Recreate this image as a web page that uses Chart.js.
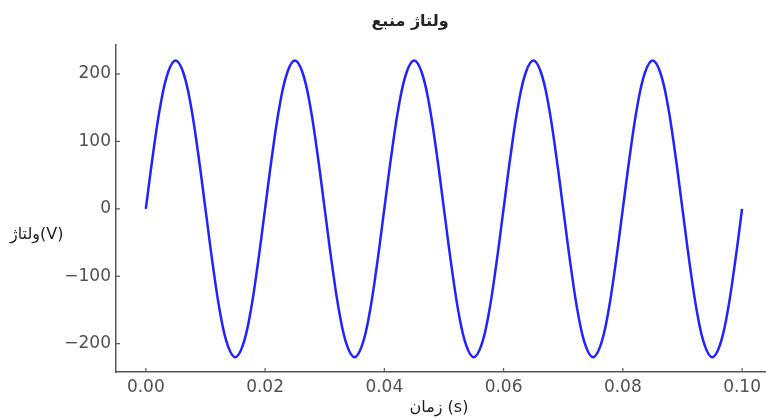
<!DOCTYPE html>
<html>
<head>
    <title>ولتاژ منبع</title>
    <script src="https://cdn.jsdelivr.net/npm/chart.js"></script>
    <style>
        body { margin: 0; background: #fff; }
        #wrap { width: 766px; height: 420px; }
    </style>
</head>
<body>
    <div id="wrap"><canvas id="myChart"></canvas></div>

    <script>
        // data (time in s, voltage in V)
        let times = [
            0.0000, 0.00125, 0.0025, 0.00375, 0.0050, 0.00625, 0.0075, 0.00875,
            0.0100, 0.01125, 0.0125, 0.01375, 0.0150, 0.01625, 0.0175, 0.01875,
            0.0200, 0.02125, 0.0225, 0.02375, 0.0250, 0.02625, 0.0275, 0.02875,
            0.0300, 0.03125, 0.0325, 0.03375, 0.0350, 0.03625, 0.0375, 0.03875,
            0.0400, 0.04125, 0.0425, 0.04375, 0.0450, 0.04625, 0.0475, 0.04875,
            0.0500, 0.05125, 0.0525, 0.05375, 0.0550, 0.05625, 0.0575, 0.05875,
            0.0600, 0.06125, 0.0625, 0.06375, 0.0650, 0.06625, 0.0675, 0.06875,
            0.0700, 0.07125, 0.0725, 0.07375, 0.0750, 0.07625, 0.0775, 0.07875,
            0.0800, 0.08125, 0.0825, 0.08375, 0.0850, 0.08625, 0.0875, 0.08875,
            0.0900, 0.09125, 0.0925, 0.09375, 0.0950, 0.09625, 0.0975, 0.09875,
            0.1000
        ];
        let volts = [
            0, 84, 156, 203, 220, 203, 156, 84,
            0, -84, -156, -203, -220, -203, -156, -84,
            0, 84, 156, 203, 220, 203, 156, 84,
            0, -84, -156, -203, -220, -203, -156, -84,
            0, 84, 156, 203, 220, 203, 156, 84,
            0, -84, -156, -203, -220, -203, -156, -84,
            0, 84, 156, 203, 220, 203, 156, 84,
            0, -84, -156, -203, -220, -203, -156, -84,
            0, 84, 156, 203, 220, 203, 156, 84,
            0, -84, -156, -203, -220, -203, -156, -84,
            0
        ];
        let xTicks = [0.00, 0.02, 0.04, 0.06, 0.08, 0.10];
        let yTicks = [-200, -100, 0, 100, 200];

        let titleText = 'ولتاژ منبع';
        let xLabel = 'زمان (s)';
        let yLabel = 'ولتاژ(V)';

        let arabicFont = '"DejaVu Sans", "Liberation Sans", sans-serif';
        let axisColor = '#555555';

        // inward ticks + titles, matplotlib style
        let decorations = {
            id: 'decorations',
            afterDraw(chart) {
                let ctx = chart.ctx;
                let area = chart.chartArea;
                let xs = chart.scales.x;
                let ys = chart.scales.y;
                ctx.save();
                ctx.strokeStyle = axisColor;
                ctx.lineWidth = 1.2;
                xs.ticks.forEach(t => {
                    let px = xs.getPixelForValue(t.value);
                    ctx.beginPath();
                    ctx.moveTo(px, area.bottom);
                    ctx.lineTo(px, area.bottom - 4);
                    ctx.stroke();
                });
                ys.ticks.forEach(t => {
                    let py = ys.getPixelForValue(t.value);
                    ctx.beginPath();
                    ctx.moveTo(area.left, py);
                    ctx.lineTo(area.left + 4, py);
                    ctx.stroke();
                });

                ctx.fillStyle = '#222222';
                ctx.textBaseline = 'middle';
                ctx.textAlign = 'center';
                ctx.font = 'bold 16px ' + arabicFont;
                ctx.fillText(titleText, 410, 22);

                ctx.font = '16px ' + arabicFont;
                ctx.fillText(xLabel, (area.left + area.right) / 2 - 2, 408);

                ctx.textAlign = 'left';
                ctx.fillText(yLabel, 10, 235);
                ctx.restore();
            }
        };

        let ctx = document.getElementById('myChart').getContext('2d');
        window.myChart = new Chart(ctx, {
            type: 'line',
            data: {
                datasets: [{
                    label: 'ولتاژ',
                    data: times.map((t, i) => ({ x: t, y: volts[i] })),
                    borderColor: '#2222ff',
                    borderWidth: 2.5,
                    pointRadius: 0,
                    tension: 0.4,
                    fill: false
                }]
            },
            options: {
                responsive: true,
                maintainAspectRatio: false,
                animation: false,
                layout: { padding: { top: 45, right: 0, bottom: 0, left: 0 } },
                plugins: {
                    legend: { display: false },
                    tooltip: { enabled: false }
                },
                scales: {
                    x: {
                        type: 'linear',
                        min: -0.005,
                        max: 0.104,
                        afterBuildTicks: scale => { scale.ticks = xTicks.map(v => ({ value: v })); },
                        afterFit: scale => { scale.height = 48; },
                        grid: { display: false, drawTicks: false },
                        border: { display: true, color: axisColor, width: 1.5 },
                        ticks: {
                            padding: 5,
                            color: '#505050',
                            font: { family: '"DejaVu Sans", sans-serif', size: 17 },
                            callback: v => v.toFixed(2)
                        }
                    },
                    y: {
                        min: -242,
                        max: 243,
                        afterBuildTicks: scale => { scale.ticks = yTicks.map(v => ({ value: v })); },
                        afterFit: scale => { scale.width = 116; },
                        grid: { display: false, drawTicks: false },
                        border: { display: true, color: axisColor, width: 1.5 },
                        ticks: {
                            padding: 5,
                            color: '#505050',
                            font: { family: '"DejaVu Sans", sans-serif', size: 17 },
                            callback: v => v < 0 ? '\u2212' + Math.abs(v) : String(v)
                        }
                    }
                }
            },
            plugins: [decorations]
        });
    </script>
</body>
</html>
